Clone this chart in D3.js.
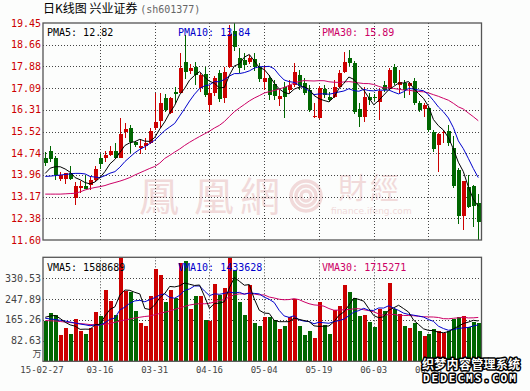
<!DOCTYPE html>
<html>
<head>
<meta charset="utf-8">
<script src="https://cdn.jsdelivr.net/npm/d3@7"></script>
<style>
  body { margin: 0; background: #fcfdfc; }
  svg { display: block; }
</style>
</head>
<body>
<svg id="chart" width="530" height="391"></svg>
<script>
// trading days, 2015-02-27 .. 2015-07-03
const dates = ["15-02-27",
  "15-03-02","15-03-03","15-03-04","15-03-05","15-03-06","15-03-09","15-03-10","15-03-11","15-03-12","15-03-13",
  "15-03-16","15-03-17","15-03-18","15-03-19","15-03-20","15-03-23","15-03-24","15-03-25","15-03-26","15-03-27",
  "15-03-30","15-03-31","15-04-01","15-04-02","15-04-03","15-04-07","15-04-08","15-04-09","15-04-10","15-04-13",
  "15-04-14","15-04-15","15-04-16","15-04-17","15-04-20","15-04-21","15-04-22","15-04-23","15-04-24","15-04-27",
  "15-04-28","15-04-29","15-04-30","15-05-04","15-05-05","15-05-06","15-05-07","15-05-08","15-05-11","15-05-12",
  "15-05-13","15-05-14","15-05-15","15-05-18","15-05-19","15-05-20","15-05-21","15-05-22","15-05-25","15-05-26",
  "15-05-27","15-05-28","15-05-29","15-06-01","15-06-02","15-06-03","15-06-04","15-06-05","15-06-08","15-06-09",
  "15-06-10","15-06-11","15-06-12","15-06-15","15-06-16","15-06-17","15-06-18","15-06-19","15-06-23","15-06-24",
  "15-06-25","15-06-26","15-06-29","15-06-30","15-07-01","15-07-02","15-07-03"];

const open = [14.58,14.82,14.58,13.82,13.82,14.01,13.11,13.49,13.56,13.59,
  13.77,14.55,14.55,14.67,14.82,14.58,15.52,15.64,15.16,14.92,
  15.00,15.12,15.64,15.92,16.73,16.18,16.96,16.91,18.05,17.72,
  17.87,17.09,17.60,16.48,16.92,17.63,16.73,17.87,19.16,18.17,
  18.11,18.04,18.14,17.87,17.33,17.45,17.24,16.69,17.14,17.03,
  17.21,17.57,17.27,17.03,16.04,16.00,17.05,16.78,16.78,17.15,
  17.69,18.17,17.99,16.34,16.06,16.76,16.78,16.60,17.21,17.09,
  17.87,17.21,17.29,17.17,17.36,16.54,16.33,16.36,15.52,15.04,
  15.48,15.55,14.92,14.13,12.47,13.53,13.55,12.95];
const high = [14.77,15.00,14.64,14.05,14.04,14.29,13.69,13.73,13.95,13.89,
  14.29,14.70,14.82,15.01,15.10,16.00,15.82,15.76,15.18,15.24,
  15.28,15.64,16.91,16.91,16.87,16.77,17.12,18.35,19.02,17.97,
  18.04,17.64,17.86,17.21,17.55,17.75,17.87,19.38,19.45,18.53,
  18.36,18.29,18.36,17.99,17.89,17.57,17.39,17.03,17.32,17.39,
  17.99,17.75,17.46,17.21,16.54,17.17,17.21,16.95,17.39,17.75,
  18.41,18.47,18.08,16.57,17.14,16.92,16.88,17.10,17.36,17.82,
  17.97,17.75,17.39,17.32,17.46,16.63,16.54,16.45,15.58,15.48,
  15.58,15.76,15.36,14.20,13.74,13.95,13.59,13.26];
const low = [14.29,14.42,13.77,13.73,13.61,13.77,12.87,13.29,13.43,13.41,
  13.73,14.17,14.43,14.64,14.53,14.57,15.30,14.74,14.96,14.70,
  14.86,15.07,15.58,15.64,16.23,16.16,16.54,16.91,17.42,17.60,
  17.21,16.95,16.77,16.23,16.80,16.59,16.57,17.82,18.45,17.63,
  17.75,17.97,17.72,17.33,17.03,16.66,16.66,16.45,16.01,16.92,
  17.14,17.03,16.85,16.23,16.00,15.98,16.74,16.59,16.74,17.10,
  17.63,17.90,16.16,15.69,15.87,16.48,16.63,15.94,16.95,17.03,
  17.21,16.91,16.74,16.85,16.50,16.23,16.04,15.51,14.79,14.05,
  15.10,15.00,13.48,12.18,11.96,12.76,12.08,11.60];
const close = [14.40,14.53,13.95,13.95,14.01,13.82,13.56,13.56,13.44,13.77,
  14.17,14.34,14.67,14.82,14.58,15.42,15.60,15.16,15.03,15.00,
  15.10,15.54,15.88,16.54,16.30,16.73,16.88,17.81,17.69,17.81,
  17.57,17.57,16.85,16.91,17.46,16.70,17.69,19.05,18.59,17.81,
  17.93,18.18,17.87,17.41,17.45,16.85,16.81,16.81,16.77,17.21,
  17.68,17.17,16.91,16.30,16.09,17.09,16.85,16.66,17.15,17.63,
  18.05,17.99,16.23,16.06,16.79,16.66,16.72,17.00,17.03,17.75,
  17.27,17.33,17.03,17.28,16.54,16.30,16.48,15.58,14.88,15.43,
  15.52,15.10,13.55,12.47,13.74,12.80,12.83,12.26];
// volume, 万
const volume = [161.3,193.1,183.9,104.5,133.5,108.5,168.0,120.4,108.5,131.1,
  195.9,180.0,283.3,239.6,183.9,430.0,279.3,276.5,199.8,153.3,
  140.2,259.4,366.7,342.8,234.4,283.3,250.3,389.3,399.7,207.8,
  259.4,259.4,164.1,160.1,307.1,263.4,290.0,440.0,362.7,234.4,
  183.9,303.1,153.3,140.2,177.2,177.2,164.1,128.3,140.2,177.2,
  247.5,140.2,104.5,120.4,91.4,236.8,144.2,108.5,203.8,219.7,
  303.1,276.5,250.3,180.0,183.9,157.3,137.5,206.6,199.8,312.3,
  206.6,187.9,140.2,131.1,153.3,120.4,100.5,108.5,127.1,120.4,
  111.2,120.4,166.9,175.0,178.0,137.5,157.3,153.3];

// moving averages before enough history is in the window
const pma5Head = [14.01,14.20,14.25,14.25];
const pma10Head = [13.90,13.91,13.93,13.95,13.97,13.99,14.01,14.01,13.99];
const pma30Head = [13.26,13.26,13.26,13.26,13.27,13.28,13.29,13.34,13.41,13.46,
  13.50,13.53,13.57,13.63,13.68,13.73,13.79,13.86,13.95,14.03,
  14.11,14.19,14.26,14.38,14.55,14.66,14.78,14.89,15.02];
const vma5Head = [175,180,182,170];
const vma10Head = [171,168,166,163,160,156,152,148,145];
const vma30Head = [162,161,160,158,156,154,152,150,148,146,
  145,145,147,150,155,160,164,168,172,175,
  178,180,185,190,195,200,206,212,218];

const priceTicks = ["19.45","18.66","17.88","17.09","16.31","15.52","14.74","13.96","13.17","12.38","11.60"];
const volTicks = ["330.53","247.89","165.26","82.63"];
const volMax = 413.16;
const labelIdx = [0,11,22,33,44,55,66,77];

const legendP = [["PMA5: 12.82","#000000"],["PMA10: 13.84","#0000cc"],["PMA30: 15.89","#cc0066"]];
const legendV = [["VMA5: 1588689","#000000"],["VMA10: 1433628","#0000cc"],["VMA30: 1715271","#cc0066"]];

const RED = "#cc0000", GREEN = "#006600";
const MONO = "'DejaVu Sans Mono', 'Liberation Mono', monospace";
const CJK = "'Noto Sans CJK SC', sans-serif";

const svg = d3.select("#chart");
const L = 43, R = 481.5;
const pTop = 23, pBot = 240, vTop = 257.3, vBot = 361.3;

const x = d3.scaleLinear().domain([0, 87]).range([45.25, 478.25]);
const yP = d3.scaleLinear().domain([11.60, 19.45]).range([pBot, pTop]);
const yV = d3.scaleLinear().domain([0, volMax]).range([vBot, vTop]);

function movingAvg(arr, n, head) {
  return arr.map((v, i) => i < n - 1 ? head[i] : d3.mean(arr.slice(i - n + 1, i + 1)));
}

// title
const title = svg.append("text").attr("x", 43).attr("y", 12.5).style("font-size", "12px");
title.append("tspan").attr("font-family", CJK).text("日K线图 兴业证券 ");
title.append("tspan").attr("font-family", MONO).attr("fill", "#666").style("font-size", "10px").text("(sh601377)");

// ifeng watermark behind the price panel
const WM = "#f1dada";
const wm = svg.append("g").attr("fill", WM).attr("font-family", "'Noto Sans CJK TC', serif").style("font-size", "40px");
[["鳳",139],["凰",194],["網",240]].forEach(([c, px]) => wm.append("text").attr("x", px).attr("y", 211).text(c));
[["財",338],["經",370]].forEach(([c, px]) => wm.append("text").attr("x", px).attr("y", 199).style("font-size", "29px").text(c));
const sw = svg.append("g").attr("fill", "none").attr("stroke", WM).attr("stroke-width", 3.5);
[15, 10, 5].forEach(r => sw.append("circle").attr("cx", 306).attr("cy", 196).attr("r", r));
svg.append("text").attr("x", 331).attr("y", 214).attr("fill", WM)
  .attr("font-family", "'DejaVu Sans', sans-serif").style("font-size", "9px").text("finance.ifeng.com");

// clip paths
const defs = svg.append("defs");
defs.append("clipPath").attr("id", "clipP").append("rect").attr("x", L).attr("y", pTop).attr("width", R - L).attr("height", pBot - pTop);
defs.append("clipPath").attr("id", "clipV").append("rect").attr("x", L).attr("y", vTop).attr("width", R - L).attr("height", vBot - vTop);

// grids
function grid(yScale, vals, top, bot) {
  const g = svg.append("g").attr("stroke", "#444").attr("stroke-dasharray", "1,2").attr("stroke-width", 1);
  vals.forEach(v => g.append("line").attr("x1", L).attr("x2", R).attr("y1", Math.round(yScale(v)) + 0.5).attr("y2", Math.round(yScale(v)) + 0.5));
  labelIdx.slice(1).forEach(i => g.append("line").attr("x1", Math.round(x(i)) + 0.5).attr("x2", Math.round(x(i)) + 0.5).attr("y1", top).attr("y2", bot));
}
grid(yP, priceTicks.slice(1, -1).map(Number), pTop, pBot);
grid(yV, volTicks.map(Number), vTop, vBot);

// price axis labels
svg.append("g").selectAll("text").data(priceTicks).join("text")
  .attr("x", 41).attr("y", d => yP(+d)).attr("dy", "0.36em").attr("text-anchor", "end")
  .attr("fill", RED).attr("font-family", MONO).style("font-size", "10px").text(d => d);
svg.append("g").selectAll("text").data(volTicks).join("text")
  .attr("x", 41).attr("y", d => yV(+d)).attr("dy", "0.36em").attr("text-anchor", "end")
  .attr("fill", "#444").attr("font-family", MONO).style("font-size", "10px").text(d => d);
svg.append("text").attr("x", 41.5).attr("y", 357).attr("text-anchor", "end").attr("fill", "#444")
  .attr("font-family", CJK).style("font-size", "9px").text("万");

// date labels
svg.append("g").selectAll("text").data(labelIdx).join("text")
  .attr("x", i => i === 0 ? 42 : x(i)).attr("y", 373).attr("text-anchor", "middle")
  .attr("fill", "#444").attr("font-family", MONO).style("font-size", "9px")
  .text(i => i === 0 ? dates[i] : dates[i].slice(3));

// candles
const candles = svg.append("g").attr("clip-path", "url(#clipP)").attr("shape-rendering", "crispEdges");
d3.range(dates.length).forEach(i => {
  const up = close[i] >= open[i];
  const col = up ? RED : GREEN;
  const cx = Math.round(x(i));
  candles.append("line").attr("x1", cx + 0.5).attr("x2", cx + 0.5)
    .attr("y1", yP(high[i])).attr("y2", yP(low[i])).attr("stroke", col);
  const y0 = yP(Math.max(open[i], close[i])), y1 = yP(Math.min(open[i], close[i]));
  candles.append("rect").attr("x", cx - 1).attr("width", 4)
    .attr("y", y0).attr("height", Math.max(1, y1 - y0)).attr("fill", col);
});

// volume bars
const bars = svg.append("g").attr("clip-path", "url(#clipV)").attr("shape-rendering", "crispEdges");
bars.selectAll("rect").data(volume).join("rect")
  .attr("x", (d, i) => Math.round(x(i)) - 1).attr("width", 4)
  .attr("y", d => yV(d)).attr("height", d => vBot - yV(d))
  .attr("fill", (d, i) => close[i] >= open[i] ? RED : GREEN);

// MA lines
function maLines(series, yScale, clip) {
  const g = svg.append("g").attr("clip-path", clip).attr("fill", "none").attr("stroke-width", 1);
  const line = d3.line().x((d, i) => x(i)).y(d => yScale(d));
  series.forEach(([vals, col]) => g.append("path").attr("d", line(vals)).attr("stroke", col));
}
maLines([
  [movingAvg(close, 30, pma30Head), "#cc0066"],
  [movingAvg(close, 10, pma10Head), "#0000cc"],
  [movingAvg(close, 5, pma5Head), "#000000"]
], yP, "url(#clipP)");
maLines([
  [movingAvg(volume, 30, vma30Head), "#cc0066"],
  [movingAvg(volume, 10, vma10Head), "#0000cc"],
  [movingAvg(volume, 5, vma5Head), "#000000"]
], yV, "url(#clipV)");

// frames
[[pTop, pBot], [vTop, vBot]].forEach(([t, b]) =>
  svg.append("rect").attr("x", L).attr("y", t).attr("width", R - L).attr("height", b - t)
    .attr("fill", "none").attr("stroke", "#555").attr("stroke-width", 1.3));

// legends
const legX = [47, 178, 322];
legendP.forEach(([t, c], k) => svg.append("text").attr("x", legX[k]).attr("y", 36).attr("fill", c)
  .attr("font-family", MONO).style("font-size", "10px").text(t));
legendV.forEach(([t, c], k) => svg.append("text").attr("x", legX[k]).attr("y", 270.5).attr("fill", c)
  .attr("font-family", MONO).style("font-size", "10px").text(t));

// dedecms stamp at the bottom right
const stamp = svg.append("g").attr("fill", "#fff").attr("stroke", "#000").attr("stroke-width", 3)
  .attr("paint-order", "stroke").attr("stroke-linejoin", "round").attr("font-weight", "bold");
stamp.append("text").attr("x", 422).attr("y", 369).attr("font-family", CJK).style("font-size", "12px")
  .attr("letter-spacing", "0.3px").text("织梦内容管理系统");
stamp.append("text").attr("x", 423).attr("y", 381.5).attr("font-family", MONO).style("font-size", "11px")
  .attr("letter-spacing", "2px").text("DEDECMS.COM");
</script>
</body>
</html>
